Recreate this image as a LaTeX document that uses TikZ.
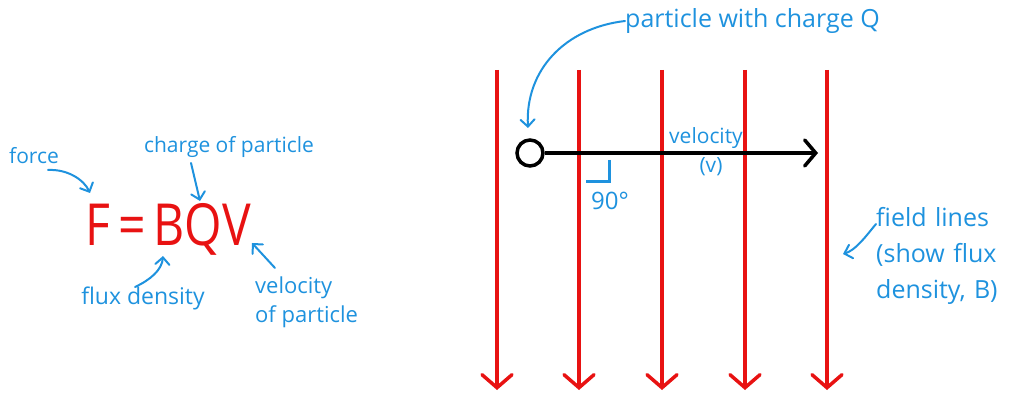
\documentclass[tikz,border=0pt]{standalone}
\usepackage{fontspec}
\usepackage{graphicx}
\setmainfont{Open Sans}
\usetikzlibrary{arrows.meta}
\definecolor{lblue}{RGB}{30,146,222}
\definecolor{fred}{RGB}{232,18,18}
\tikzset{
  lbl/.style={text=lblue, font=\fontsize{21}{30}\selectfont, inner sep=0pt, align=left},
  big/.style={font=\fontsize{25}{36}\selectfont},
  barrow/.style={draw=lblue, line width=2pt, line cap=round, -{Straight Barb[length=7pt,width=14pt,line cap=round]}},
  fieldline/.style={draw=fred, line width=3.5pt, -{Straight Barb[length=13pt,width=30pt,line cap=round]}},
}
\begin{document}
\begin{tikzpicture}[x=1pt,y=-1pt]
\path[use as bounding box] (0,0) rectangle (1013,393);
% field lines
\foreach \i/\x in {1/497,2/579,3/662,4/745,5/827}{
  \coordinate (ft\i) at (\x,70);
  \coordinate (fb\i) at (\x,390);
  \draw[fieldline] (ft\i) -- (fb\i);
}
% particle and velocity
\node[draw=black, line width=3.5pt, circle, minimum size=26pt, inner sep=0pt] (p) at (530,153) {};
\coordinate (vend) at (818,153);
\draw[line width=3.5pt, -{Straight Barb[length=11pt,width=26pt,line cap=round]}] (p) -- (vend);
% right angle mark
\coordinate (ra1) at (609,160);
\coordinate (ra2) at (609,182);
\coordinate (ra3) at (586,182);
\draw[draw=lblue, line width=3pt] (ra1) -- (ra2) -- (ra3);
\node[lbl, font=\fontsize{24}{30}\selectfont] (ninety) at (610,201) {90°};
\node[lbl] (vel) at (706,138) {velocity};
\node[lbl] (vv) at (711,167) {(v)};
% particle label
\node[lbl, big, anchor=west] (plab) at (625,21) {particle with charge Q};
\coordinate (ptip) at (528,128);
\draw[barrow] (plab.west) .. controls (565,28) and (525,70) .. (ptip);
% field lines label
\node[lbl, big, anchor=north west, text width=150pt] (flab) at (876,207) {field lines\\(show flux\\density, B)};
\coordinate (ftip) at (843,254);
\draw[barrow] (876,224) .. controls (866,236) and (856,250) .. (ftip);
% equation
\node[text=fred, font=\fontsize{58}{60}\selectfont, inner sep=0pt] (eq) at (168,229) {\scalebox{0.83}[1]{F\,=\,BQV}};
\node[lbl] (force) at (34,156) {force};
\coordinate (forcetip) at (90,193);
\draw[barrow] (48,170) .. controls (68,169) and (84,180) .. (forcetip);
\node[lbl] (charge) at (229,147) {charge of particle};
\coordinate (chargetip) at (200,201);
\draw[barrow] (191,163) -- (chargetip);
\node[lbl, font=\fontsize{23}{30}\selectfont] (flux) at (143,298) {flux density};
\coordinate (fluxtip) at (163,256);
\draw[barrow] (135,287) .. controls (150,280) and (162,270) .. (fluxtip);
\node[lbl, font=\fontsize{22}{29}\selectfont, anchor=north west] (velp) at (255,277) {velocity\\of particle};
\coordinate (veltip) at (252,243);
\draw[barrow] (275,268) -- (veltip);
\end{tikzpicture}
\end{document}
